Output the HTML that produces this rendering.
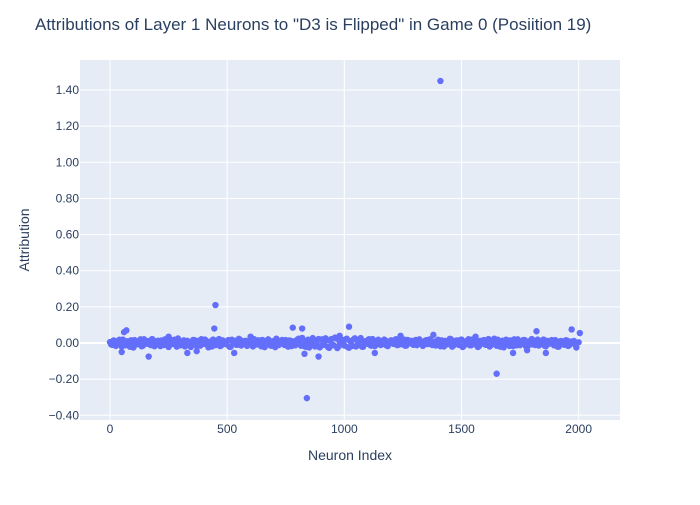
<!DOCTYPE html>
<html><head><meta charset="utf-8"><style>
body{margin:0;background:#fff;font-family:"Liberation Sans",sans-serif}
svg text{font-family:"Liberation Sans",sans-serif;fill:#2a3f5f}
</style></head><body>
<svg id="chart" width="700" height="500">
<rect x="0" y="0" width="700" height="500" fill="#fff"/>
<text x="35" y="30" font-size="17">Attributions of Layer 1 Neurons to "D3 is Flipped" in Game 0 (Posiition 19)</text>
<rect x="80" y="60" width="540" height="360" fill="#E5ECF6"/>
<g id="grid"></g><g id="ticks"></g><g id="pts"></g>
<text x="350" y="460" font-size="14" text-anchor="middle">Neuron Index</text>
<text transform="translate(29,240) rotate(-90)" font-size="14" text-anchor="middle">Attribution</text>
</svg>
<script>
const xTicks=[0,500,1000,1500,2000];
const yTicks=[-0.4,-0.2,0,0.2,0.4,0.6,0.8,1.0,1.2,1.4];
const bandValues=[0.005,-0.01,0.012,-0.004,0.018,-0.02,0.008,0.003,-0.012,0.015,-0.025,0.01,-0.006,0.02,-0.015,0.004,0.011,-0.008,0.022,-0.018,
0.006,-0.003,0.014,-0.011,0.009,-0.022,0.017,0.002,-0.007,0.025,-0.013,0.007,-0.019,0.012,0.001,-0.009,0.016,-0.016,0.005,0.021,
-0.005,0.013,-0.024,0.008,0.019,-0.012,0.003,-0.017,0.015,-0.002,0.01,-0.021,0.018,0.004,-0.01,0.023,-0.014,0.006,0.012,-0.008,
0.02,-0.019,0.002,0.014,-0.006,0.017,-0.023,0.009,0.011,-0.015,0.005,0.024,-0.011,0.007,-0.004,0.016,-0.02,0.013,0.001,-0.013,
0.019,-0.007,0.028,-0.018,0.01,-0.025,0.015,0.003,-0.012,0.022,-0.016,0.008,0.026,-0.022,0.012,-0.009,0.03,-0.028,0.006,0.018,
-0.014,0.024,-0.026,0.011,0.02,-0.019,0.004,0.027,-0.021,0.009,0.016,-0.011,0.022,-0.017,0.013,0.005,-0.008,0.019,-0.013,0.007,
0.015,-0.005,0.021,-0.01,0.011,0.003,-0.015,0.017,0.006,-0.006,0.013,-0.012,0.02,0.002,-0.009,0.016,-0.004,0.01,0.007,-0.014,
0.018,-0.018,0.005,0.012,-0.007,0.023,-0.02,0.008,0.014,-0.011,0.019,-0.016,0.004,0.021,-0.013,0.009,0.015,-0.022,0.012,0.001,
-0.008,0.017,-0.019,0.006,0.024,-0.015,0.011,0.003,-0.024,0.018,-0.006,0.014,-0.017,0.008,0.02,-0.012,0.005,0.016,-0.021,0.01,
0.022,-0.009,0.013,-0.014,0.007,0.019,-0.018,0.004,0.012,-0.005,0.016,-0.02,0.009,0.003,-0.01,0.014,-0.012,0.006,0.011,-0.025,0.004];
const bandValues2=[-0.008,0.014,-0.016,0.006,-0.002,0.019,-0.013,0.01,-0.021,0.004,0.016,-0.007,0.012,-0.018,0.021,-0.004,0.008,-0.012,0.015,-0.009,
0.013,-0.017,0.003,0.02,-0.014,0.009,-0.006,0.018,-0.02,0.011,-0.003,0.015,-0.011,0.007,-0.022,0.017,-0.005,0.012,-0.015,0.004,
0.019,-0.01,0.006,-0.019,0.014,-0.001,0.022,-0.013,0.009,-0.007,0.016,-0.021,0.005,0.013,-0.009,0.018,-0.004,0.011,-0.016,0.008,
-0.012,0.021,-0.008,0.015,-0.018,0.006,-0.003,0.02,-0.014,0.01,-0.023,0.012,-0.006,0.017,-0.011,0.003,0.014,-0.017,0.009,-0.002,
0.024,-0.015,0.011,-0.021,0.018,-0.008,0.027,-0.019,0.013,-0.024,0.02,-0.01,0.016,-0.027,0.022,-0.013,0.025,-0.02,0.014,-0.006,
0.019,-0.023,0.01,-0.016,0.026,-0.012,0.017,-0.02,0.008,-0.004,0.021,-0.015,0.012,-0.009,0.018,-0.011,0.006,0.014,-0.017,0.01,
-0.002,0.016,-0.012,0.009,-0.007,0.019,-0.014,0.005,0.012,-0.01,0.017,-0.003,0.008,-0.016,0.013,-0.006,0.02,-0.011,0.007,0.002,
-0.013,0.015,-0.019,0.01,-0.004,0.021,-0.015,0.012,-0.008,0.017,-0.022,0.006,0.014,-0.012,0.019,-0.007,0.011,-0.017,0.004,0.016,
-0.01,0.022,-0.014,0.008,-0.005,0.018,-0.02,0.013,-0.009,0.015,-0.016,0.007,0.02,-0.013,0.01,-0.003,0.017,-0.018,0.006,-0.008,
0.014,-0.011,0.019,-0.006,0.009,-0.015,0.012,-0.004,0.016,-0.013,0.007,-0.02,0.011,-0.007,0.015,-0.016,0.008,-0.002];
const outlierIdx=[1410,450,840,1650,445,60,70,1020,780,820,1820,1970,2005,50,165,890,830,530,1130,1720,1860,1780,330,370,980,1380,1240,1560,600,250];
const outlierVal=[1.45,0.21,-0.305,-0.17,0.08,0.06,0.07,0.09,0.085,0.08,0.065,0.075,0.055,-0.05,-0.075,-0.075,-0.06,-0.055,-0.055,-0.055,-0.055,-0.04,-0.055,-0.045,0.04,0.045,0.04,0.035,0.035,0.035];
const X=v=>110+v*0.23433, Y=v=>343-v*180.7;
const NS="http://www.w3.org/2000/svg";
function mk(t,a,p){const e=document.createElementNS(NS,t);for(const k in a)e.setAttribute(k,a[k]);p.appendChild(e);return e;}
const g=document.getElementById('grid'),tk=document.getElementById('ticks'),pts=document.getElementById('pts');
xTicks.forEach(v=>{const l=mk('line',{x1:X(v),x2:X(v),y1:60,y2:420,stroke:'#fff','stroke-width':1},g);


const t=mk('text',{x:X(v),y:433,'font-size':12,'text-anchor':'middle'},tk);t.textContent=v;

});
yTicks.forEach(v=>{const l=mk('line',{x1:80,x2:620,y1:Y(v),y2:Y(v),stroke:'#fff','stroke-width':v===0?2:1},g);


const t=mk('text',{x:79,y:Y(v)+4,'font-size':12,'text-anchor':'end'},tk);t.textContent=(v<0?'\u2212':'')+Math.abs(v).toFixed(2);

});
function dot(i,v){const c=mk('circle',{cx:X(i),cy:Y(v),r:3.2,fill:'#636efa'},pts);

}
bandValues.forEach((v,k)=>dot(k*10,v));
bandValues2.forEach((v,k)=>dot(k*10+5,v));
outlierIdx.forEach((i,k)=>dot(i,outlierVal[k]));
</script>
</body></html>
